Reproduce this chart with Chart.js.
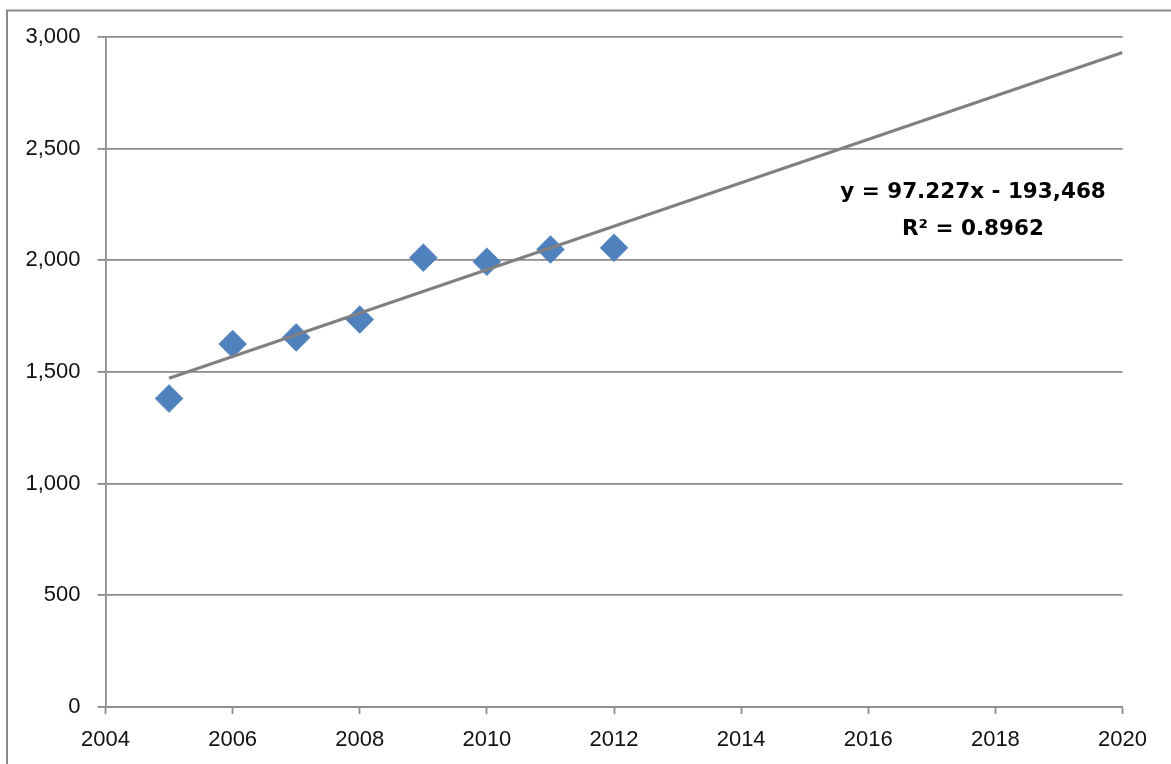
<!DOCTYPE html>
<html>
<head>
<meta charset="utf-8">
<title>Annual values with linear trend</title>
<script src="https://cdn.jsdelivr.net/npm/chart.js@4/dist/chart.umd.min.js"></script>
<style>
  html, body { margin: 0; padding: 0; background: #ffffff; }
  #chart { display: block; }
</style>
</head>
<body>
<canvas id="chart" width="1171" height="764"></canvas>
<script>
// Observed yearly values
const years = [2005, 2006, 2007, 2008, 2009, 2010, 2011, 2012];
const values = [1381, 1625, 1655, 1735, 2012, 1994, 2049, 2056];

// Axis tick values
const xTickValues = [2004, 2006, 2008, 2010, 2012, 2014, 2016, 2018, 2020];
const yTickValues = [0, 500, 1000, 1500, 2000, 2500, 3000];

// Linear trend (least squares) and its extent
const trendSlope = 97.227;
const trendIntercept = -193468;
const trendR2 = 0.8962;
const trendRange = [2005, 2020];

const fmt = (v) => v.toLocaleString('en-US');

const points = years.map((x, i) => ({ x, y: values[i] }));
const trendPoints = trendRange.map((x) => ({ x, y: trendSlope * x + trendIntercept }));

const equationText = 'y = ' + trendSlope + 'x ' + (trendIntercept < 0 ? '- ' : '+ ') + fmt(Math.abs(trendIntercept));
const r2Text = 'R\u00B2 = ' + trendR2;

const GRID = '#8c8c8c';

// Outer frame and white background
const framePlugin = {
  id: 'frame',
  beforeDraw(chart) {
    const ctx = chart.ctx;
    ctx.save();
    ctx.fillStyle = '#ffffff';
    ctx.fillRect(0, 0, chart.width, chart.height);
    ctx.strokeStyle = '#8a8a8a';
    ctx.lineWidth = 2;
    ctx.strokeRect(7, 10.5, chart.width + 100, chart.height + 100);
    ctx.restore();
  }
};

// Trend equation label
const equationPlugin = {
  id: 'equation',
  afterDatasetsDraw(chart) {
    const ctx = chart.ctx;
    ctx.save();
    ctx.fillStyle = '#000000';
    ctx.font = 'bold 21.5px "DejaVu Sans"';
    ctx.textAlign = 'center';
    ctx.textBaseline = 'alphabetic';
    const cx = 973;
    ctx.fillText(equationText, cx, 198);
    ctx.fillText(r2Text, cx, 235);
    ctx.restore();
  }
};

new Chart(document.getElementById('chart'), {
  type: 'scatter',
  data: {
    datasets: [
      {
        label: 'Linear trend',
        data: trendPoints,
        showLine: true,
        borderColor: '#808080',
        borderWidth: 3,
        pointRadius: 0,
        pointHoverRadius: 0,
        order: 0
      },
      {
        label: 'Values',
        data: points,
        pointStyle: 'rectRot',
        pointRadius: 14,
        pointHoverRadius: 14,
        backgroundColor: '#4F81BD',
        borderColor: '#4F81BD',
        borderWidth: 0.5,
        order: 1
      }
    ]
  },
  options: {
    responsive: false,
    devicePixelRatio: 1,
    animation: false,
    events: [],
    layout: { padding: { left: 7, top: 37, right: 48.5, bottom: 0 } },
    plugins: {
      legend: { display: false },
      tooltip: { enabled: false },
      title: { display: false }
    },
    scales: {
      x: {
        type: 'linear',
        min: xTickValues[0],
        max: xTickValues[xTickValues.length - 1],
        afterBuildTicks: (scale) => { scale.ticks = xTickValues.map((v) => ({ value: v })); },
        afterFit: (scale) => { scale.height = 57; },
        grid: {
          drawOnChartArea: false,
          drawTicks: true,
          tickLength: 7,
          tickWidth: 1.8,
          tickColor: GRID
        },
        border: { display: true, color: GRID, width: 1.8 },
        ticks: {
          padding: 13,
          color: '#111111',
          font: { family: '"Liberation Sans"', size: 22 },
          callback: (v) => String(v),
          maxRotation: 0,
          autoSkip: false
        }
      },
      y: {
        type: 'linear',
        min: yTickValues[0],
        max: yTickValues[yTickValues.length - 1],
        afterBuildTicks: (scale) => { scale.ticks = yTickValues.map((v) => ({ value: v })); },
        afterFit: (scale) => { scale.width = 98.5; },
        grid: {
          drawOnChartArea: true,
          drawTicks: true,
          tickLength: 8,
          color: GRID,
          lineWidth: 1.8,
          tickColor: GRID
        },
        border: { display: true, color: GRID, width: 1.8 },
        ticks: {
          padding: 17,
          color: '#111111',
          font: { family: '"Liberation Sans"', size: 22 },
          callback: (v) => fmt(v),
          autoSkip: false
        }
      }
    }
  },
  plugins: [framePlugin, equationPlugin]
});
</script>
</body>
</html>
